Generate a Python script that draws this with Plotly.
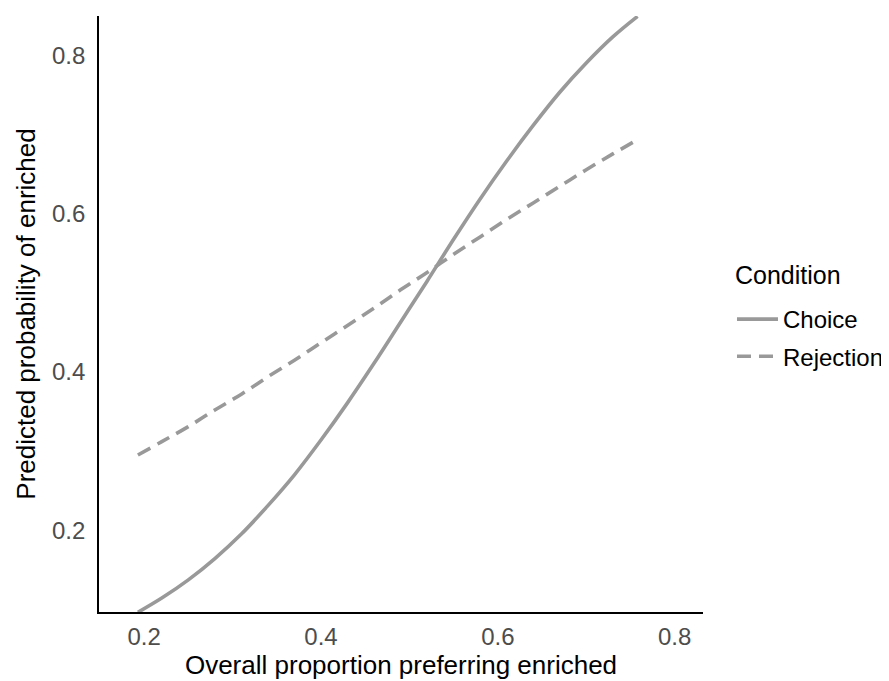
import plotly.graph_objects as go

# Data
x_vals = [0.193, 0.22, 0.25, 0.28, 0.31, 0.34, 0.37, 0.40, 0.43, 0.46,
          0.49, 0.52, 0.55, 0.58, 0.61, 0.64, 0.67, 0.70, 0.73, 0.758]
choice = [0.096, 0.114, 0.137, 0.164, 0.195, 0.231, 0.270, 0.314, 0.361, 0.411,
          0.463, 0.515, 0.568, 0.619, 0.667, 0.712, 0.754, 0.791, 0.824, 0.850]
rejection = [0.295, 0.312, 0.331, 0.352, 0.372, 0.394, 0.415, 0.437, 0.459, 0.481,
             0.504, 0.526, 0.549, 0.571, 0.593, 0.614, 0.635, 0.656, 0.676, 0.694]
tick_vals = [0.2, 0.4, 0.6, 0.8]
tick_text = ["0.2", "0.4", "0.6", "0.8"]
legend_title = "Condition"

FONT = "Liberation Sans, Arial, Helvetica, sans-serif"
LINE_COLOR = "#999999"

fig = go.Figure()
fig.add_trace(go.Scatter(x=x_vals, y=choice, mode="lines", name="Choice",
                         legendgroup="a",
                         line=dict(color=LINE_COLOR, width=3.6, shape="spline")))
fig.add_trace(go.Scatter(x=x_vals, y=rejection, mode="lines", name="Rejection",
                         legendgroup="b",
                         line=dict(color=LINE_COLOR, width=3.6, shape="spline",
                                   dash="14px,8px")))

fig.add_annotation(text=legend_title, xref="paper", yref="paper",
                   x=1.0497, y=0.5654, xanchor="left", yanchor="middle",
                   showarrow=False, font=dict(size=25, color="black"))

fig.update_layout(
    width=889, height=681,
    margin=dict(l=91, r=194, t=8, b=77),
    paper_bgcolor="white", plot_bgcolor="white",
    font=dict(family=FONT, color="black", size=24),
    legend=dict(
        x=1.048, xanchor="left", y=0.4597, yanchor="middle",
        font=dict(size=24, color="black"),
        bgcolor="rgba(0,0,0,0)",
        itemwidth=41,
        traceorder="grouped", tracegroupgap=3,
    ),
    xaxis=dict(
        range=[0.149, 0.832], tickvals=tick_vals, ticktext=tick_text,
        showgrid=False, zeroline=False, showline=True, linecolor="black",
        linewidth=1.8, ticks="", tickfont=dict(size=24, color="#4D4D4D"),
        ticklabelstandoff=2,
        title=dict(text="Overall proportion preferring enriched",
                   font=dict(size=26, color="black"), standoff=6),
    ),
    yaxis=dict(
        range=[0.0964, 0.8505], tickvals=tick_vals, ticktext=tick_text,
        showgrid=False, zeroline=False, showline=True, linecolor="black",
        linewidth=1.8, ticks="", tickfont=dict(size=24, color="#4D4D4D"),
        ticklabelstandoff=7,
        title=dict(text="Predicted probability of enriched",
                   font=dict(size=26, color="black"), standoff=9),
    ),
)

fig.write_html("out.html")
